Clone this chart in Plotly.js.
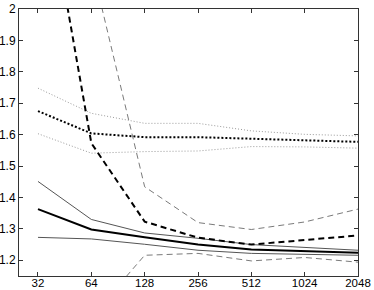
<!DOCTYPE html>
<html><head><meta charset="utf-8">
<script src="https://cdn.plot.ly/plotly-3.0.1.min.js"></script>
<style>html,body{margin:0;padding:0;background:#fff}#c{width:374px;height:290px}</style>
</head><body><div id="c"></div>
<script>
const xs = [32, 64, 128, 256, 512, 1024, 2048];
const xTickLabels = ['32','64','128','256','512','1024','2048'];
const yTickVals = [1.2,1.3,1.4,1.5,1.6,1.7,1.8,1.9,2];
const yTickLabels = ['1.2','1.3','1.4','1.5','1.6','1.7','1.8','1.9','2'];

const solidMean  = [1.363, 1.298, 1.273, 1.250, 1.234, 1.229, 1.224];
const solidUpper = [1.451, 1.330, 1.287, 1.270, 1.250, 1.240, 1.232];
const solidLower = [1.273, 1.268, 1.251, 1.232, 1.222, 1.218, 1.216];

const dashMean  = [2.54, 1.573, 1.323, 1.272, 1.250, 1.264, 1.279];
const dashUpper = [4.00, 2.144, 1.434, 1.320, 1.298, 1.322, 1.363];
const dashLower = [1.08, 1.020, 1.216, 1.222, 1.198, 1.209, 1.194];

const dotMean  = [1.675, 1.604, 1.592, 1.592, 1.587, 1.583, 1.577];
const dotUpper = [1.748, 1.668, 1.636, 1.636, 1.612, 1.601, 1.596];
const dotLower = [1.603, 1.541, 1.546, 1.548, 1.562, 1.561, 1.557];

function tr(y, color, width, dash){
  return {x: xs, y: y, type:'scatter', mode:'lines', hoverinfo:'skip',
          line:{color:color, width:width, dash:dash}};
}
const thin = '#7a7a7a';
const data = [
  tr(dotUpper, '#9a9a9a', 1, '1px,2px'),
  tr(dotLower, '#9a9a9a', 1, '1px,2px'),
  tr(dashUpper, thin, 1, '6px,4px'),
  tr(dashLower, thin, 1, '6px,4px'),
  tr(solidUpper, '#555', 1, 'solid'),
  tr(solidLower, '#555', 1, 'solid'),
  tr(dotMean, '#000', 2, '2px,2px'),
  tr(dashMean, '#000', 2, '6px,4px'),
  tr(solidMean, '#000', 2, 'solid'),
];
const axisCommon = {showgrid:false, zeroline:false, showline:true, linecolor:'#333', linewidth:1,
  mirror:'ticks', ticks:'inside', ticklen:4, tickcolor:'#333', tickwidth:1,
  tickfont:{family:'Liberation Sans, Arial, sans-serif', size:12, color:'#000'}};
const layout = {
  width:374, height:290, showlegend:false,
  margin:{l:19, r:16, t:9, b:14, pad:0},
  paper_bgcolor:'#fff', plot_bgcolor:'#fff',
  xaxis: Object.assign({}, axisCommon, {type:'log',
    range:[Math.log10(25), Math.log10(2048)], ticklabelstandoff:-4,
    tickfont:{family:'Liberation Sans, Arial, sans-serif', size:11.5, color:'#000'},
    tickmode:'array', tickvals: xs, ticktext: xTickLabels}),
  yaxis: Object.assign({}, axisCommon, {range:[1.15, 2],
    tickmode:'array', tickvals: yTickVals, ticktext: yTickLabels}),
};
Plotly.newPlot('c', data, layout, {staticPlot:true, displayModeBar:false});
</script></body></html>
